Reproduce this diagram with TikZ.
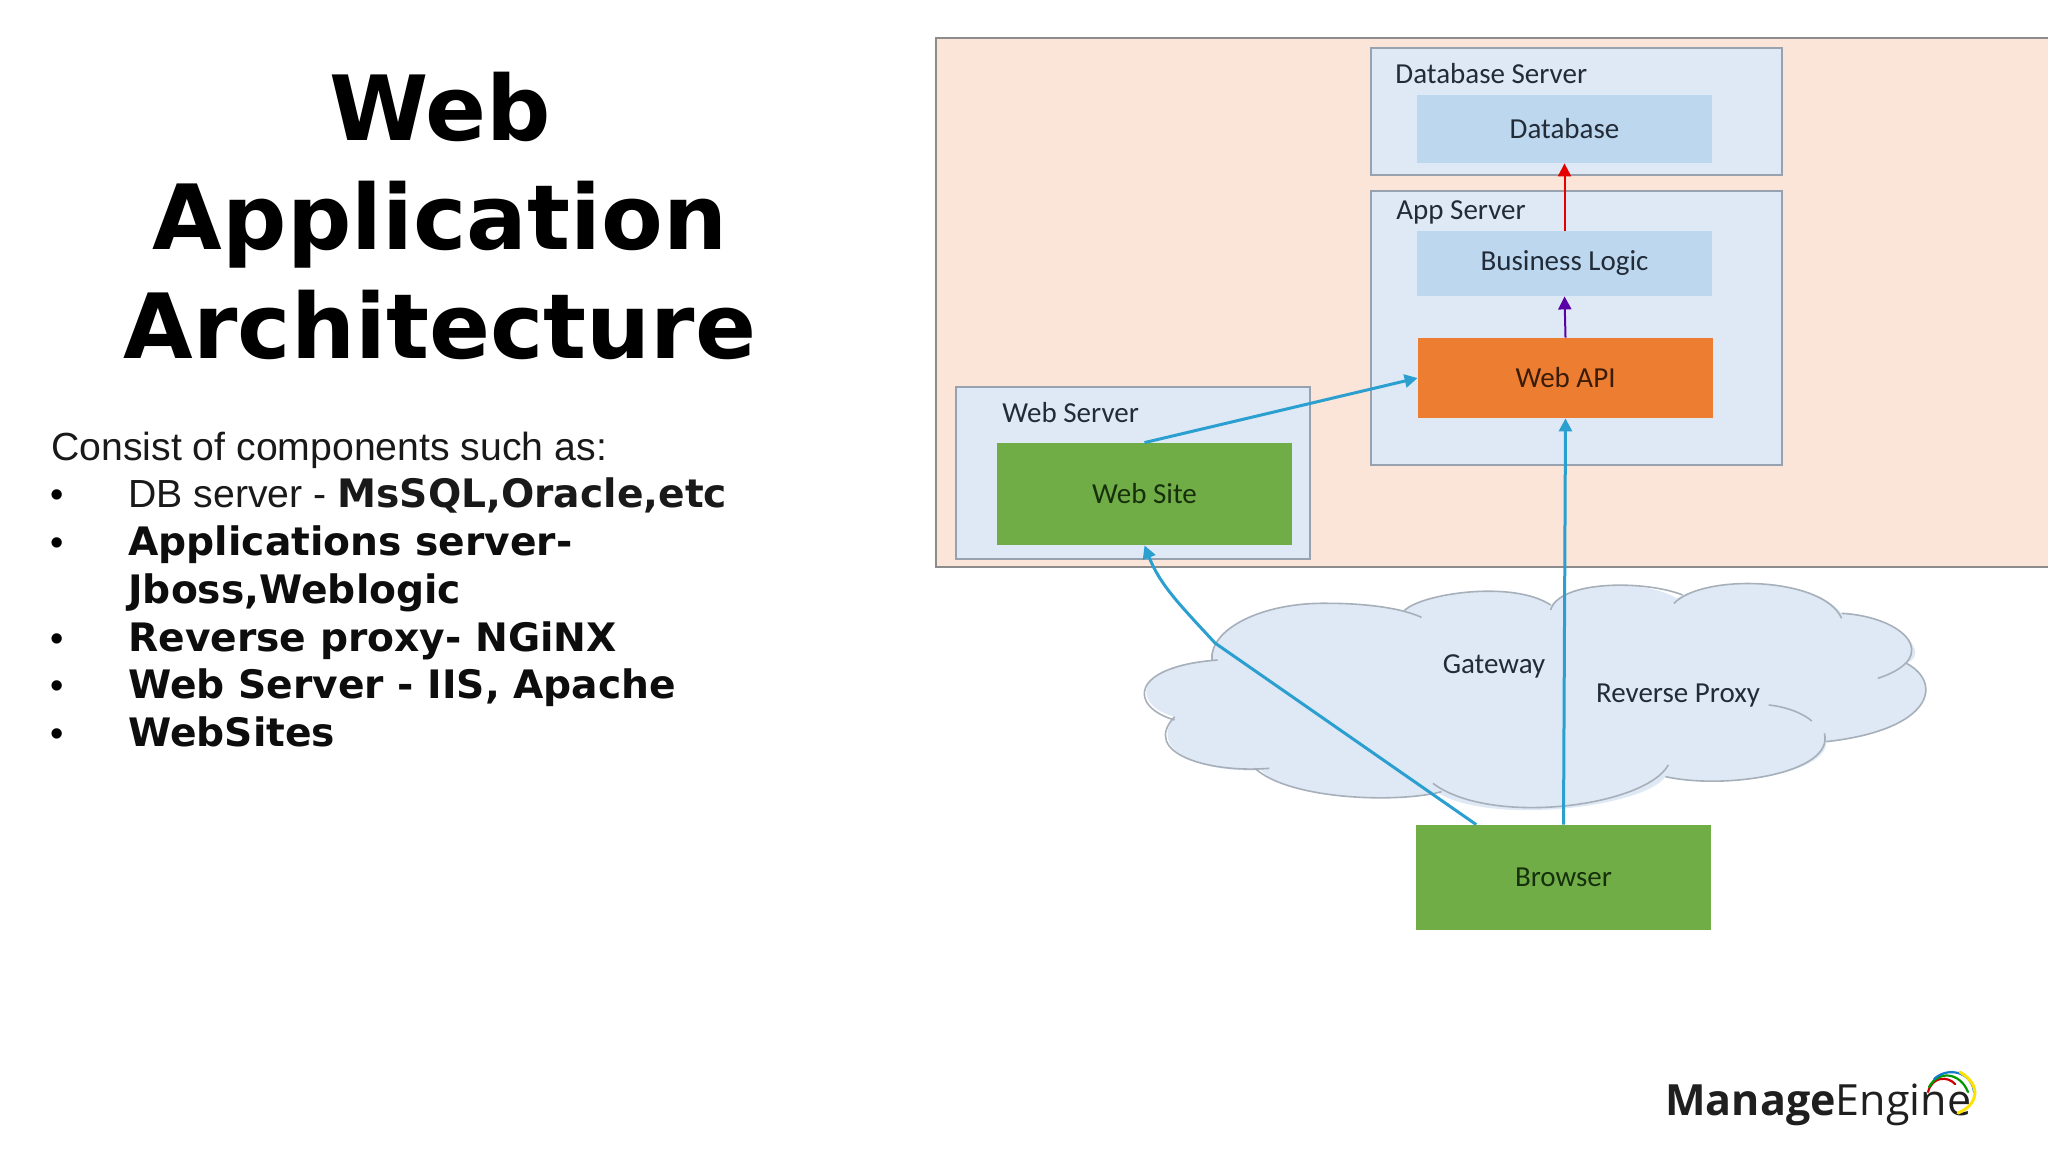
\documentclass[tikz,border=0pt]{standalone}
\usepackage{fontspec}
\setmainfont{Liberation Sans}
\newfontfamily\vfont{DejaVu Sans}[BoldFont={DejaVu Sans Bold}]
\newfontfamily\cfont{Carlito}
\newfontfamily\lfont{Open Sans}
\usetikzlibrary{arrows.meta,calc}
\definecolor{panelc}{HTML}{FBE5D8}
\definecolor{serverc}{HTML}{DEE9F5}
\definecolor{innerc}{HTML}{BDD7EE}
\definecolor{greenc}{HTML}{70AD47}
\definecolor{orangec}{HTML}{ED7D31}
\definecolor{edgec}{HTML}{98A2AE}
\definecolor{arrowc}{HTML}{2A9FD0}
\definecolor{labelc}{HTML}{222B38}
\definecolor{greentext}{HTML}{16300C}
\definecolor{orangetext}{HTML}{3A1C08}
\tikzset{
  boxlabel/.style={font=\cfont\fontsize{14.5}{16}\selectfont,text=labelc,inner sep=0pt},
  greenbox/.style={fill=greenc,draw=none,text=greentext,font=\cfont\fontsize{14.5}{16}\selectfont},
  bluebox/.style={fill=innerc,draw=none,text=labelc,font=\cfont\fontsize{14.5}{16}\selectfont},
  serverbox/.style={fill=serverc,draw=edgec,line width=1pt},
  flow/.style={draw=arrowc,line width=1.5pt,-{Triangle[length=6.5pt,width=6.5pt]}},
  thinflow/.style={line width=1pt,-{Triangle[length=6.5pt,width=6.5pt]}},
  listplain/.style={anchor=base west,inner sep=0pt,font=\fontsize{19.6}{22}\selectfont,text=black!90},
  listbold/.style={anchor=base west,inner sep=0pt,font=\vfont\bfseries\fontsize{19.6}{22}\selectfont,text=black!95},
  bulletmark/.style={anchor=base,inner sep=0pt,font=\fontsize{19}{22}\selectfont},
  cloudedge/.style={draw=edgec!85,line width=.8pt},
  logoarc/.style={line width=1.1pt,line cap=round},
}
\begin{document}
\begin{tikzpicture}[x=.5pt,y=-.5pt]
\useasboundingbox (0,0) rectangle (2048,1152);
\fill[white] (0,0) rectangle (2048,1152);

% left column
\node[align=center,inner sep=0pt,font=\vfont\bfseries\fontsize{45}{54.5}\selectfont,text=black] (title) at (440,216) {Web\\Application\\Architecture};
\node[listplain] (l0) at (51,460) {Consist of components such as:};
\node[bulletmark] (b1) at (57,507) {•};
\node[listplain] (l1) at (128,507) {DB server - {\vfont\bfseries MsSQL,Oracle,etc}};
\node[bulletmark] (b2) at (57,555) {•};
\node[listbold] (l2) at (128,555) {Applications server-};
\node[listbold] (l2b) at (128,603) {Jboss,Weblogic};
\node[bulletmark] (b3) at (57,651) {•};
\node[listbold] (l3) at (128,651) {Reverse proxy- NGiNX};
\node[bulletmark] (b4) at (57,698) {•};
\node[listbold] (l4) at (128,698) {Web Server - IIS, Apache};
\node[bulletmark] (b5) at (57,746) {•};
\node[listbold] (l5) at (128,746) {WebSites};

% panel
\fill[panelc,draw=black!45,line width=1pt] (936,38) rectangle (2050,567);
\draw[serverbox] (1371,48) rectangle (1782,175);
\draw[serverbox] (1371,191) rectangle (1782,465);
\draw[serverbox] (956,387) rectangle (1310,559);

\node[boxlabel,anchor=base west] (dbs) at (1395,83) {Database Server};
\node[boxlabel,anchor=base west] (aps) at (1396,219) {App Server};
\node[boxlabel,anchor=base west] (wbs) at (1002,422) {Web Server};

\node[bluebox,minimum width=147.5pt,minimum height=34pt,inner sep=0pt] (db) at (1564.5,129) {Database};
\node[bluebox,minimum width=147.5pt,minimum height=32.5pt,inner sep=0pt] (bl) at (1564.5,263.5) {Business Logic};
\node[fill=orangec,text=orangetext,font=\cfont\fontsize{14.5}{16}\selectfont,minimum width=147.5pt,minimum height=40pt,inner sep=0pt] (api) at (1565.5,378) {Web API};
\node[greenbox,minimum width=147.5pt,minimum height=51pt,inner sep=0pt] (site) at (1144.5,494) {Web Site};

% cloud
\begin{scope}[shift={(1100,560)},xscale=.574,yscale=.3333]
\fill[serverc] (195,300) .. controls (190,210) and (280,125) .. (400,130)
  .. controls (450,130) and (500,140) .. (530,152)
  .. controls (560,100) and (720,60) .. (785,135)
  .. controls (830,60) and (950,60) .. (1005,115)
  .. controls (1070,50) and (1240,50) .. (1292,160)
  .. controls (1390,170) and (1450,280) .. (1405,310)
  .. controls (1470,370) and (1450,510) .. (1265,545)
  .. controls (1270,640) and (1090,690) .. (985,650)
  .. controls (950,740) and (680,800) .. (585,695)
  .. controls (520,730) and (330,720) .. (280,630)
  .. controls (190,640) and (80,580) .. (130,470)
  .. controls (60,440) and (50,320) .. (195,300) -- cycle;
\draw[cloudedge] (195,300) .. controls (190,210) and (280,125) .. (400,130)
  .. controls (450,130) and (520,140) .. (560,172);
\draw[cloudedge] (530,152) .. controls (560,100) and (720,60) .. (785,135);
\draw[cloudedge] (785,150) .. controls (800,60) and (950,60) .. (1015,105);
\draw[cloudedge] (1000,130) .. controls (1050,40) and (1260,50) .. (1292,175);
\draw[cloudedge] (1292,160) .. controls (1400,170) and (1470,290) .. (1355,355);
\draw[cloudedge] (1405,310) .. controls (1470,370) and (1450,510) .. (1265,545);
\draw[cloudedge] (1165,435) .. controls (1195,440) and (1225,460) .. (1240,483);
\draw[cloudedge] (1262,520) .. controls (1280,640) and (1090,690) .. (985,650);
\draw[cloudedge] (990,615) .. controls (950,740) and (680,800) .. (580,670);
\draw[cloudedge] (595,695) .. controls (520,730) and (330,720) .. (270,625);
\draw[cloudedge] (295,625) .. controls (190,640) and (70,580) .. (130,470);
\draw[cloudedge] (130,480) .. controls (50,440) and (50,320) .. (205,300);
\end{scope}
\node[boxlabel] (gw) at (1494,666) {Gateway};
\node[boxlabel] (rp) at (1678,696) {Reverse Proxy};

\node[greenbox,minimum width=147.5pt,minimum height=52.5pt,inner sep=0pt] (browser) at (1563.5,877.5) {Browser};

% connectors
\coordinate (bleft) at ($(browser.north west)!.205!(browser.north east)$);
\coordinate (bend) at (1215,643);
\draw[flow] (bleft) -- (bend) .. controls (1180,605) and (1160,585) .. (site.south);
\draw[flow] (site.north) -- (api.west);
\draw[flow] (browser.north) -- (api.south);
\draw[thinflow,draw=red!90!black,fill=red] (bl.north) -- (db.south);
\draw[thinflow,draw=violet!70!blue] (api.north) -- (bl.south);

% logo
\node[anchor=base west,inner sep=0pt,font=\lfont\fontsize{21.5}{24}\selectfont,text=black!88] (logo) at (1665,1115) {\textbf{Manage}Engine};
\coordinate (lg1) at (1928,1092);
\draw[logoarc,draw=red!80!black] (1928,1092) .. controls (1932,1076) and (1948,1076) .. (1955,1084);
\draw[logoarc,draw=green!60!black] (1929,1087) .. controls (1938,1070) and (1960,1072) .. (1968,1092);
\draw[logoarc,draw=cyan!60!blue] (1934,1079) .. controls (1948,1066) and (1972,1072) .. (1974,1092);
\draw[logoarc,draw=yellow!85!orange,line width=1.5pt] (1960,1072) .. controls (1982,1085) and (1978,1105) .. (1958,1113);
\end{tikzpicture}
\end{document}
